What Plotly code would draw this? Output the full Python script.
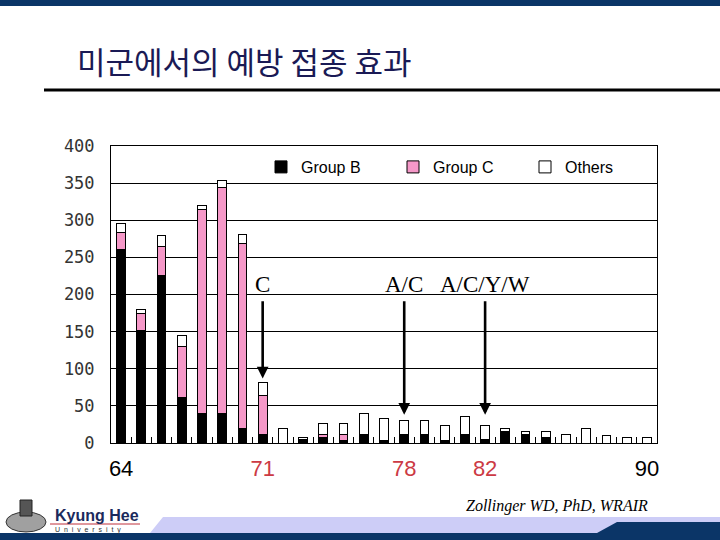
import plotly.graph_objects as go

years = list(range(64, 91))
group_b = [260, 152, 225, 61, 40, 40, 20, 11, 0, 5, 8, 4, 11, 4, 11, 12, 4, 11, 5, 16, 11, 8, 0, 0, 0, 0, 0]
group_c = [23, 23, 39, 69, 275, 304, 249, 53, 0, 0, 4, 8, 0, 0, 0, 0, 0, 0, 0, 0, 0, 0, 0, 0, 0, 0, 0]
others = [12, 5, 16, 15, 5, 10, 12, 17, 20, 3, 14, 14, 29, 29, 19, 18, 20, 25, 19, 4, 5, 7, 12, 20, 10, 8, 8]

tick_years = [64, 71, 78, 82, 90]
tick_colors = ["#000000", "#cc3a44", "#cc3a44", "#cc3a44", "#000000"]
tick_text = [f'<span style="color:{c}">{y}</span>' for y, c in zip(tick_years, tick_colors)]

notes = [("C", 71), ("A/C", 78), ("A/C/Y/W", 82)]
arrow_years = [71, 78, 82]
arrow_tips = [87, 38, 38]

L, R, T, B = 111, 657, 146, 443
W, H = 720, 540


def px(x):
    return (x - L) / (R - L)


def py(y):
    return (B - y) / (B - T)


fig = go.Figure()
fig.add_bar(x=years, y=group_b, name="Group B", marker=dict(color="#000000", line=dict(color="#000000", width=1)))
fig.add_bar(x=years, y=group_c, name="Group C", marker=dict(color="#f598c8", line=dict(color="#000000", width=1)))
fig.add_bar(x=years, y=others, name="Others", marker=dict(color="#ffffff", line=dict(color="#000000", width=1)))

shapes = [
    dict(type="rect", xref="paper", yref="paper", x0=px(0), x1=px(W), y0=py(0), y1=py(6),
         fillcolor="#0b3567", line=dict(width=0), layer="above"),
    dict(type="rect", xref="paper", yref="paper", x0=px(44), x1=px(W), y0=py(88.5), y1=py(91.5),
         fillcolor="#000000", line=dict(width=0)),
    dict(type="path", xref="paper", yref="paper",
         path=f"M {px(150)},{py(533)} L {px(163)},{py(517)} L {px(W)},{py(517)} L {px(W)},{py(533)} Z",
         fillcolor="#cdcdf7", line=dict(width=0)),
    dict(type="rect", xref="paper", yref="paper", x0=px(0), x1=px(W), y0=py(533), y1=py(540),
         fillcolor="#0b3567", line=dict(width=0)),
    dict(type="path", xref="paper", yref="paper",
         path=f"M {px(597)},{py(533)} L {px(617)},{py(522)} L {px(W)},{py(522)} L {px(W)},{py(533)} Z",
         fillcolor="#0b3567", line=dict(width=0)),
    dict(type="line", xref="paper", yref="paper", x0=px(50), x1=px(140), y0=py(524), y1=py(524),
         line=dict(color="#c0303a", width=1)),
    dict(type="circle", xref="paper", yref="paper", x0=px(6), x1=px(46), y0=py(512), y1=py(532),
         fillcolor="#a0a0a0", line=dict(color="#333333", width=1)),
    dict(type="rect", xref="paper", yref="paper", x0=px(20), x1=px(32), y0=py(500), y1=py(516),
         fillcolor="#555555", line=dict(color="#222222", width=1)),
]

annotations = []
for label, yr in notes:
    annotations.append(dict(x=yr, y=214, xref="x", yref="y", text=label, showarrow=False,
                            font=dict(family="Liberation Serif", size=23, color="#000000")))
for yr, tip in zip(arrow_years, arrow_tips):
    annotations.append(dict(x=yr, y=tip, xref="x", yref="y", ax=yr, ay=193, axref="x", ayref="y",
                            text="", showarrow=True, arrowhead=2, arrowsize=0.9, arrowwidth=2.6,
                            arrowcolor="#000000"))

annotations += [
    dict(x=px(75), y=py(60), xref="paper", yref="paper", xanchor="left", yanchor="middle",
         text="미군에서의 예방 접종 효과", showarrow=False,
         font=dict(family="Noto Sans CJK KR", size=31, color="#1a1a55")),
    dict(x=px(557), y=py(506), xref="paper", yref="paper", xanchor="center", yanchor="middle",
         text="<i>Zollinger WD, PhD, WRAIR</i>", showarrow=False,
         font=dict(family="Liberation Serif", size=16, color="#000000")),
    dict(x=px(53), y=py(515), xref="paper", yref="paper", xanchor="left", yanchor="middle",
         text="<b>Kyung Hee</b>", showarrow=False,
         font=dict(family="Liberation Sans", size=16, color="#1b2a5c")),
    dict(x=px(53), y=py(529.5), xref="paper", yref="paper", xanchor="left", yanchor="middle",
         text="U  n  i  v  e  r  s  i  t  y", showarrow=False,
         font=dict(family="Liberation Sans", size=7, color="#333333")),
]

fig.update_layout(
    barmode="stack",
    bargap=0.57,
    width=W, height=H,
    margin=dict(l=L, r=W - R, t=T, b=H - B, pad=0),
    paper_bgcolor="#ffffff",
    plot_bgcolor="#ffffff",
    showlegend=True,
    legend=dict(orientation="h", x=1, y=py(150), xanchor="right", yanchor="top",
                entrywidth=87, entrywidthmode="pixels", traceorder="normal",
                bgcolor="rgba(0,0,0,0)", font=dict(family="Liberation Sans", size=16, color="#000000")),
    shapes=shapes,
    annotations=annotations,
    xaxis=dict(range=[63.5, 90.5], tickmode="array", tickvals=tick_years, ticktext=tick_text,
               ticks="", showgrid=False, zeroline=False, showline=True, mirror=True,
               linecolor="#000000", linewidth=1, ticklabelstandoff=6,
               tickfont=dict(family="Liberation Sans", size=22, color="#000000"),
               minor=dict(tickvals=[y + 0.5 for y in years[:-1]], ticks="inside", ticklen=6,
                          tickcolor="#000000", tickwidth=1, showgrid=False)),
    yaxis=dict(range=[0, 400], dtick=50, tick0=0, showgrid=True, gridcolor="#000000", gridwidth=1,
               zeroline=False, showline=True, mirror=True, linecolor="#000000", linewidth=1,
               ticks="", ticklabelstandoff=12,
               tickfont=dict(family="DejaVu Sans Mono", size=17, color="#333333")),
)

fig.write_html("out.html", post_script="document.body.style.margin='0';",
               config={"displayModeBar": False})
